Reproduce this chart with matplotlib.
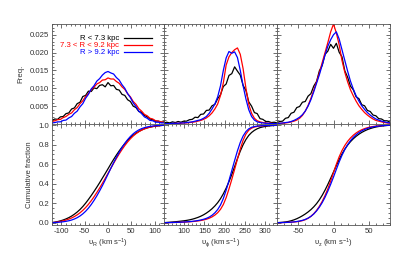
import numpy as np
import matplotlib
matplotlib.use("Agg")
import matplotlib.pyplot as plt
from matplotlib.ticker import MultipleLocator
from matplotlib.lines import Line2D

plt.rcParams['font.family'] = ['Liberation Sans', 'DejaVu Sans']
plt.rcParams['mathtext.fontset'] = 'custom'
plt.rcParams['mathtext.rm'] = 'Liberation Sans'
plt.rcParams['mathtext.it'] = 'Liberation Sans:italic'
plt.rcParams['mathtext.default'] = 'regular'

# ---------------- data ----------------
labels = ["R < 7.3 kpc", "7.3 < R < 9.2 kpc", "R > 9.2 kpc"]
colors = ["black", "red", "blue"]

vR = np.arange(-120, 121, 6)
vR_inner = [0.0010, 0.0014, 0.0013, 0.0020, 0.0021, 0.0029, 0.0031, 0.0042, 0.0045, 0.0057,
            0.0061, 0.0077, 0.0080, 0.0092, 0.0091, 0.0101, 0.0099, 0.0108, 0.0110, 0.0104,
            0.0116, 0.0107, 0.0108, 0.0097, 0.0095, 0.0083, 0.0080, 0.0068, 0.0063, 0.0050,
            0.0046, 0.0035, 0.0033, 0.0024, 0.0020, 0.0014, 0.0012, 0.0008, 0.0008, 0.0005, 0.0006]
vR_mid = [0.0007, 0.0009, 0.0012, 0.0013, 0.0018, 0.0021, 0.0027, 0.0031, 0.0040, 0.0046,
          0.0057, 0.0065, 0.0077, 0.0085, 0.0096, 0.0103, 0.0112, 0.0116, 0.0123, 0.0124,
          0.0129, 0.0126, 0.0126, 0.0119, 0.0114, 0.0104, 0.0097, 0.0085, 0.0076, 0.0063,
          0.0055, 0.0043, 0.0036, 0.0027, 0.0023, 0.0016, 0.0014, 0.0009, 0.0008, 0.0006, 0.0005]
vR_outer = [0.0003, 0.0004, 0.0006, 0.0006, 0.0010, 0.0011, 0.0017, 0.0021, 0.0030, 0.0036,
            0.0048, 0.0057, 0.0072, 0.0083, 0.0098, 0.0107, 0.0120, 0.0127, 0.0137, 0.0144,
            0.0147, 0.0143, 0.0140, 0.0130, 0.0123, 0.0110, 0.0100, 0.0085, 0.0074, 0.0059,
            0.0049, 0.0036, 0.0029, 0.0020, 0.0016, 0.0010, 0.0009, 0.0005, 0.0005, 0.0003, 0.0003]

vphi = np.arange(50, 331, 7)
vphi_inner = [0.0003, 0.0005, 0.0003, 0.0006, 0.0004, 0.0007, 0.0005, 0.0008, 0.0008, 0.0012,
              0.0013, 0.0019, 0.0018, 0.0027, 0.0028, 0.0038, 0.0039, 0.0051, 0.0055, 0.0071,
              0.0082, 0.0105, 0.0112, 0.0136, 0.0141, 0.0160, 0.0148, 0.0137, 0.0108, 0.0094,
              0.0062, 0.0050, 0.0032, 0.0029, 0.0015, 0.0013, 0.0007, 0.0007, 0.0004, 0.0005, 0.0003]
vphi_mid = [0.0001, 0.0001, 0.0001, 0.0001, 0.0002, 0.0002, 0.0002, 0.0003, 0.0003, 0.0004,
            0.0005, 0.0006, 0.0008, 0.0010, 0.0013, 0.0017, 0.0023, 0.0031, 0.0042, 0.0056,
            0.0080, 0.0115, 0.0165, 0.0188, 0.0200, 0.0208, 0.0213, 0.0195, 0.0155, 0.0100,
            0.0055, 0.0030, 0.0016, 0.0009, 0.0006, 0.0004, 0.0003, 0.0002, 0.0002, 0.0001, 0.0001]
vphi_outer = [0.0001, 0.0001, 0.0001, 0.0002, 0.0002, 0.0002, 0.0003, 0.0003, 0.0004, 0.0005,
              0.0006, 0.0008, 0.0010, 0.0012, 0.0016, 0.0021, 0.0030, 0.0042, 0.0056, 0.0076,
              0.0107, 0.0150, 0.0185, 0.0203, 0.0198, 0.0202, 0.0186, 0.0150, 0.0107, 0.0070,
              0.0040, 0.0021, 0.0011, 0.0006, 0.0004, 0.0003, 0.0002, 0.0002, 0.0001, 0.0001, 0.0001]

vz = np.arange(-80, 81, 4)
vz_inner = [0.0004, 0.0007, 0.0008, 0.0016, 0.0018, 0.0030, 0.0033, 0.0046, 0.0049, 0.0061,
            0.0063, 0.0078, 0.0085, 0.0106, 0.0119, 0.0149, 0.0164, 0.0195, 0.0204, 0.0223,
            0.0212, 0.0226, 0.0201, 0.0188, 0.0149, 0.0131, 0.0106, 0.0096, 0.0076, 0.0071,
            0.0054, 0.0051, 0.0038, 0.0035, 0.0025, 0.0023, 0.0015, 0.0014, 0.0009, 0.0009, 0.0005]
vz_mid = [0.0001, 0.0002, 0.0002, 0.0003, 0.0004, 0.0006, 0.0008, 0.0011, 0.0016, 0.0024,
          0.0036, 0.0052, 0.0072, 0.0094, 0.0118, 0.0143, 0.0172, 0.0200, 0.0228, 0.0258,
          0.0280, 0.0255, 0.0222, 0.0178, 0.0145, 0.0118, 0.0096, 0.0079, 0.0064, 0.0051,
          0.0041, 0.0032, 0.0025, 0.0019, 0.0014, 0.0010, 0.0008, 0.0006, 0.0004, 0.0003, 0.0002]
vz_outer = [0.0001, 0.0002, 0.0003, 0.0004, 0.0005, 0.0007, 0.0010, 0.0014, 0.0019, 0.0026,
            0.0036, 0.0050, 0.0068, 0.0090, 0.0114, 0.0138, 0.0165, 0.0193, 0.0218, 0.0236,
            0.0250, 0.0258, 0.0238, 0.0208, 0.0178, 0.0148, 0.0120, 0.0098, 0.0079, 0.0064,
            0.0051, 0.0041, 0.0032, 0.0025, 0.0019, 0.0014, 0.0011, 0.0008, 0.0006, 0.0004, 0.0003]

xtick_labels = [[-100, -50, 0, 50, 100], [100, 150, 200, 250, 300], [-50, 0, 50]]

panels = [
    (vR, [vR_inner, vR_mid, vR_outer], (-120, 120), r"υ$_{R}$ (km s$^{-1}$)"),
    (vphi, [vphi_inner, vphi_mid, vphi_outer], (50, 330), r"υ$_{\phi}$ (km s$^{-1}$)"),
    (vz, [vz_inner, vz_mid, vz_outer], (-80, 80), r"υ$_{z}$ (km s$^{-1}$)"),
]

# ---------------- figure ----------------
W, H = 413, 258
fig = plt.figure(figsize=(W / 100, H / 100), dpi=100)

xl = [52, 164, 277, 390]
ytop, ymid, ybot = 24, 124, 225
fs = 5.6

def style(ax):
    ax.tick_params(which='both', direction='in', top=True, right=True,
                   labelsize=fs, width=0.5, colors='#333333', pad=2)
    ax.tick_params(which='major', length=3.2)
    ax.tick_params(which='minor', length=1.6)
    for s in ax.spines.values():
        s.set_linewidth(0.6)
        s.set_color('#555555')

for i, (x, series, xlim, xlab) in enumerate(panels):
    left = xl[i] / W
    width = (xl[i + 1] - xl[i]) / W
    axt = fig.add_axes([left, 1 - ymid / H, width, (ymid - ytop) / H])
    axb = fig.add_axes([left, 1 - ybot / H, width, (ybot - ymid) / H])
    for ys, c in zip(series, colors):
        ys = np.asarray(ys)
        axt.plot(x, ys, color=c, lw=0.9)
        cum = np.concatenate([[0], np.cumsum(0.5 * (ys[1:] + ys[:-1]) * np.diff(x))])
        cum = cum / cum[-1]
        axb.plot(x, cum, color=c, lw=0.9)
    for ax in (axt, axb):
        ax.set_xlim(*xlim)
        ax.xaxis.set_major_locator(MultipleLocator(50))
        ax.xaxis.set_minor_locator(MultipleLocator(10))
        style(ax)
    axt.set_ylim(0, 0.028)
    axt.yaxis.set_major_locator(MultipleLocator(0.005))
    axt.yaxis.set_minor_locator(MultipleLocator(0.001))
    axt.set_xticklabels([])
    axb.set_xticks(xtick_labels[i])
    axb.set_xticklabels([str(t) for t in xtick_labels[i]])
    axb.set_ylim(-0.024, 1.013)
    axb.yaxis.set_major_locator(MultipleLocator(0.2))
    axb.yaxis.set_minor_locator(MultipleLocator(0.05))
    axb.set_xlabel(xlab, fontsize=fs, labelpad=1.5, color='#333333')
    if i == 0:
        axt.set_yticks([0.005, 0.010, 0.015, 0.020, 0.025])
        axt.set_yticklabels(["0.005", "0.010", "0.015", "0.020", "0.025"])
        axb.set_yticks([0.0, 0.2, 0.4, 0.6, 0.8, 1.0])
        axb.set_yticklabels(["0.0", "0.2", "0.4", "0.6", "0.8", "1.0"])
        axt.set_ylabel("Freq.", fontsize=fs, color='#333333', labelpad=4)
        axb.set_ylabel("Cumulative fraction", fontsize=fs, color='#333333', labelpad=4)
    else:
        axt.set_yticklabels([])
        axb.set_yticklabels([])

# legend (manual, right-aligned text followed by line sample)
rows = [38.3, 45.3, 52.3]
for lab, c, yy in zip(labels, colors, rows):
    fig.text(119 / W, 1 - yy / H, lab, color=c, fontsize=fs, ha='right', va='center')
    fig.add_artist(Line2D([124 / W, 152 / W], [1 - yy / H, 1 - yy / H],
                          color=c, lw=0.9, transform=fig.transFigure))

fig.savefig("out.png", dpi=100)
